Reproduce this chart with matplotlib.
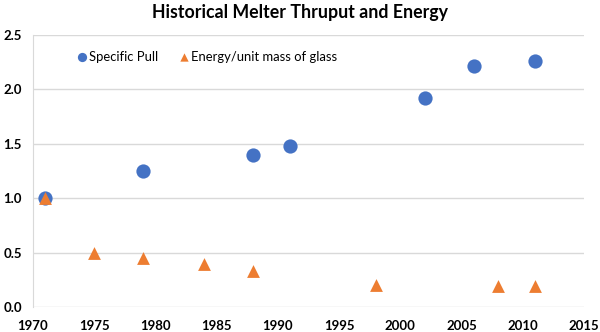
import matplotlib
matplotlib.use("Agg")
import matplotlib.pyplot as plt

plt.rcParams['font.family'] = ['Lato', 'DejaVu Sans']

# Specific Pull
pull_years = [1971, 1979, 1988, 1991, 2002, 2006, 2011]
pull_vals = [1.0, 1.25, 1.40, 1.48, 1.92, 2.21, 2.26]

# Energy/unit mass of glass
energy_years = [1971, 1975, 1979, 1984, 1988, 1998, 2008, 2011]
energy_vals = [1.0, 0.50, 0.45, 0.40, 0.33, 0.20, 0.19, 0.19]

xticks = [1970, 1975, 1980, 1985, 1990, 1995, 2000, 2005, 2010, 2015]
yticks = [0.0, 0.5, 1.0, 1.5, 2.0, 2.5]

fig = plt.figure(figsize=(6, 3.32), dpi=100)
ax = fig.add_axes([0.055, 0.075, 0.918, 0.82])

ax.scatter(pull_years, pull_vals, s=105, color='#4472C4', marker='o',
           label='Specific Pull', zorder=3, linewidths=0)
ax.scatter(energy_years, energy_vals, s=85, color='#ED7D31', marker='^',
           label='Energy/unit mass of glass', zorder=4, linewidths=0)

ax.set_xlim(1970, 2015)
ax.set_ylim(0, 2.5)
ax.set_xticks(xticks)
ax.set_yticks(yticks)
ax.set_yticklabels([f'{v:.1f}' for v in yticks])
ax.grid(axis='y', color='#d9d9d9', linewidth=1)
ax.set_axisbelow(True)
for s in ['top', 'right', 'bottom']:
    ax.spines[s].set_visible(False)
ax.spines['left'].set_color('#d9d9d9')
ax.tick_params(length=0, labelsize=9.5, colors='#000000')
for lab in ax.get_xticklabels() + ax.get_yticklabels():
    lab.set_fontweight('bold')
ax.tick_params(axis='x', pad=9)
ax.tick_params(axis='y', pad=8)

ax.legend(loc='upper left', bbox_to_anchor=(0.055, 0.985), ncol=2, frameon=False,
          fontsize=9.4, handletextpad=0.05, handlelength=1.0, columnspacing=1.5,
          markerscale=0.65)

fig.text(0.5, 0.962, 'Historical Melter Thruput and Energy', ha='center', va='center',
         fontsize=12.8, fontweight='bold')

fig.savefig('out.png', dpi=100)
